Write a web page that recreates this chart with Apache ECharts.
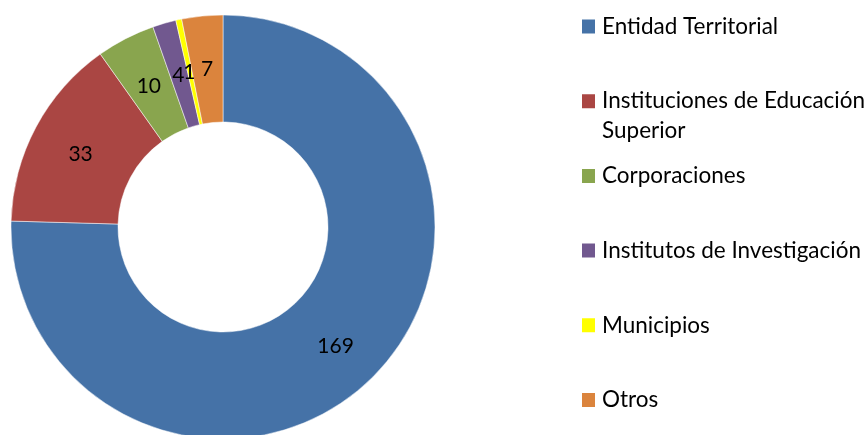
<!DOCTYPE html>
<html><head><meta charset="utf-8">
<script src="https://cdn.jsdelivr.net/npm/echarts@6/dist/echarts.min.js"></script>
<style>html,body{margin:0;padding:0;background:#fff}#c{width:868px;height:435px}</style>
</head><body><div id="c"></div>
<script>
const categories = ['Entidad Territorial','Instituciones de Educación Superior','Corporaciones','Institutos de Investigación','Municipios','Otros'];
const values = [169, 33, 10, 4, 1, 7];
const colors = ['#4572A7','#AA4643','#89A54E','#71588F','#FFFF00','#DB843D'];
const legendLabels = {'Instituciones de Educación Superior':'Instituciones de Educación'};

const chart = echarts.init(document.getElementById('c'));
chart.setOption({
  animation:false,
  color: colors,
  legend:{
    orient:'vertical', left:580, top:15, padding:0,
    icon:'rect', itemWidth:15, itemHeight:16, itemGap:51.7,
    textStyle:{fontFamily:'Lato', fontSize:22.5, color:'#000', lineHeight:22, padding:[0,0,0,1]},
    formatter: n => legendLabels[n] || n,
    data: categories
  },
  graphic:[{type:'text', left:602, top:119, style:{text:'Superior', font:'22.5px Lato', fill:'#000'}}],
  series:[{
    type:'pie', center:[223,227], radius:[105,212], startAngle:90, clockwise:true,
    avoidLabelOverlap:false,
    labelLayout:{hideOverlap:false},
    itemStyle:{borderColor:'#fff', borderWidth:0.5},
    label:{show:true, position:'inside', formatter:'{c}', fontFamily:'Lato', fontSize:21, color:'#000', offset:[0,3]},
    labelLine:{show:false},
    emphasis:{disabled:true},
    data: categories.map((c,i)=>({name:c, value:values[i]}))
  }]
});
</script></body></html>
